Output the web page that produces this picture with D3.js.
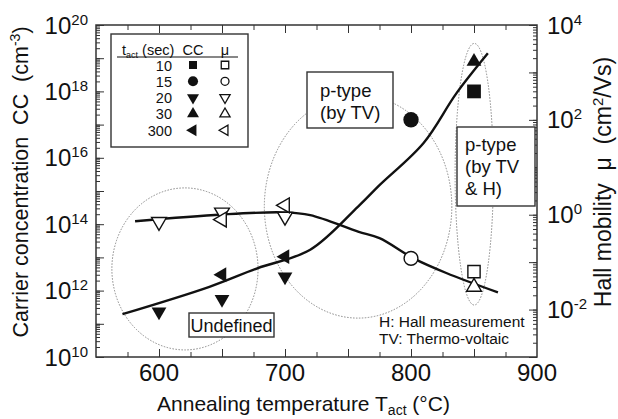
<!DOCTYPE html>
<html>
<head>
<meta charset="utf-8">
<script src="https://cdn.jsdelivr.net/npm/d3@7"></script>
<style>
  body { margin: 0; background: #fff; }
  text { font-family: "Liberation Sans", Arial, sans-serif; fill: #111; white-space: pre; }
</style>
</head>
<body>
<div id="chart"></div>
<script>
/* DATA */
// annealing time series, sec
const series = ["10", "15", "20", "30", "300"];

// temperatures per series (deg C)
const temp10 = [850], temp15 = [800], temp20 = [600, 650, 700], temp30 = [850], temp300 = [650, 700];
// carrier concentration, cm^-3
const cc10 = [1.0e18], cc15 = [1.4e17], cc20 = [2.3e11, 5.5e11, 2.6e12], cc30 = [7.9e18], cc300 = [3.0e12, 1.05e13];
// hall mobility, cm2/Vs
const mu10 = [0.063], mu15 = [0.12], mu20 = [0.71, 1.12, 0.91], mu30 = [0.030], mu300 = [0.79, 1.58];

// guide lines drawn by hand in the figure
const ccFitT = [571, 640, 678, 720, 758, 775, 810, 836, 861];
const ccFitV = [1.95e11, 1.3e12, 4.7e12, 1.7e13, 3.4e14, 1.5e15, 2.8e16, 8.7e17, 1.4e19];
const muFitT = [581, 650, 698, 720, 758, 775, 802, 828, 869];
const muFitV = [0.73, 1.01, 1.12, 0.98, 0.44, 0.32, 0.12, 0.059, 0.023];

// dotted ellipses: centre (T, CC), half width in deg C, half height in decades
const ellT = [620.6, 758, 850.2];
const ellCC = [4.5e12, 3.4e14, 3.2e15];
const ellHalfT = [58, 74.4, 15.2];
const ellHalfDec = [2.44, 3.36, 3.94];

// axis ticks
const xLabels = [600, 700, 800, 900];
const ccExp = [10, 12, 14, 16, 18, 20];
const muExp = [-2, 0, 2, 4];

/* CONSTANTS AND GLOBALS */
var margin = { top: 25, right: 81, bottom: 62, left: 96 },
  width = 618 - margin.left - margin.right,
  height = 419 - margin.top - margin.bottom;

let xScale = d3.scaleLinear().domain([550, 900]).range([0, width]);
let yScale = d3.scaleLog().domain([1e10, 1e20]).range([height, 0]);
let yScale2 = d3.scaleLog().domain([1e-3, 1e4]).range([height, 0]);

const shapeOf = { "10": "square", "15": "circle", "20": "down", "30": "up", "300": "left" };
const rows = [
  [temp10, cc10, mu10], [temp15, cc15, mu15], [temp20, cc20, mu20], [temp30, cc30, mu30], [temp300, cc300, mu300]
];

// symbol areas: [filled, open] for the plot, [filled, open] for the legend
const sizes = {
  square: [190, 150, 64, 56],
  circle: [185, 150, 80, 50],
  tri: [95, 95, 62, 45]
};

function symbolPath(shape, which) {
  if (shape == "square") return d3.symbol(d3.symbolSquare, sizes.square[which])();
  if (shape == "circle") return d3.symbol(d3.symbolCircle, sizes.circle[which])();
  return d3.symbol(d3.symbolTriangle, sizes.tri[which])();
}
function rot(shape) {
  if (shape == "down") return 180;
  if (shape == "left") return -90;
  return 0;
}

function minorTicks(scale) {
  const d = scale.domain();
  const lo = Math.floor(Math.log10(d[0])), hi = Math.ceil(Math.log10(d[1]));
  const out = [];
  for (let e = lo; e < hi; e++) {
    for (let k = 1; k < 10; k++) {
      const v = k * Math.pow(10, e);
      if (v >= d[0] * 0.999 && v <= d[1] * 1.001) out.push(v);
    }
  }
  return out;
}

var svg = d3.select("#chart").append("svg")
  .attr("width", 618)
  .attr("height", 419)
  .append("g")
  .attr("transform", "translate(" + margin.left + "," + margin.top + ")");

// ellipses
svg.selectAll(".ell")
  .data(ellT)
  .enter().append("ellipse")
  .attr("cx", (d, i) => xScale(d))
  .attr("cy", (d, i) => yScale(ellCC[i]))
  .attr("rx", (d, i) => xScale(d + ellHalfT[i]) - xScale(d))
  .attr("ry", (d, i) => yScale(ellCC[i]) - yScale(ellCC[i] * Math.pow(10, ellHalfDec[i])))
  .attr("fill", "none")
  .attr("stroke", "#888")
  .attr("stroke-width", 1)
  .attr("stroke-dasharray", "1.5,1.5");

// guide lines
var line1 = d3.line().curve(d3.curveCatmullRom)
  .x((d, i) => xScale(ccFitT[i])).y(d => yScale(d));
svg.append("path").attr("d", line1(ccFitV))
  .attr("fill", "none").attr("stroke", "#111").attr("stroke-width", 2.4);

var line2 = d3.line().curve(d3.curveCatmullRom)
  .x((d, i) => xScale(muFitT[i])).y(d => yScale2(d));
svg.append("path").attr("d", line2(muFitV))
  .attr("fill", "none").attr("stroke", "#111").attr("stroke-width", 2.4);

// markers
rows.forEach((r, si) => {
  const shape = shapeOf[series[si]];
  r[0].forEach((t, j) => {
    svg.append("path")
      .attr("d", symbolPath(shape, 0))
      .attr("transform", "translate(" + xScale(t) + "," + yScale(r[1][j]) + ") rotate(" + rot(shape) + ")")
      .attr("fill", "#111");
    svg.append("path")
      .attr("d", symbolPath(shape, 1))
      .attr("transform", "translate(" + xScale(t) + "," + yScale2(r[2][j]) + ") rotate(" + rot(shape) + ")")
      .attr("fill", "#fff").attr("stroke", "#111").attr("stroke-width", 1.4);
  });
});

// axes, ticks inward
function cleanAxis(g) { g.select(".domain").remove(); g.selectAll("line").attr("stroke", "#333"); }

svg.append("g").call(d3.axisRight(yScale).tickValues(minorTicks(yScale)).tickSize(4).tickFormat("")).call(cleanAxis);
svg.append("g").call(d3.axisRight(yScale).tickValues(d3.range(10, 21).map(e => Math.pow(10, e))).tickSize(8).tickFormat("")).call(cleanAxis);

svg.append("g").attr("transform", "translate(" + width + ",0)")
  .call(d3.axisLeft(yScale2).tickValues(minorTicks(yScale2)).tickSize(4).tickFormat("")).call(cleanAxis);
svg.append("g").attr("transform", "translate(" + width + ",0)")
  .call(d3.axisLeft(yScale2).tickValues(d3.range(-3, 5).map(e => Math.pow(10, e))).tickSize(8).tickFormat("")).call(cleanAxis);

const x25 = d3.range(575, 900, 50), x50 = d3.range(600, 900, 50);
svg.append("g").attr("transform", "translate(0," + height + ")")
  .call(d3.axisTop(xScale).tickValues(x25).tickSize(5).tickFormat("")).call(cleanAxis);
svg.append("g").attr("transform", "translate(0," + height + ")")
  .call(d3.axisTop(xScale).tickValues(x50).tickSize(8).tickFormat("")).call(cleanAxis);
svg.append("g")
  .call(d3.axisBottom(xScale).tickValues(x25).tickSize(5).tickFormat("")).call(cleanAxis);
svg.append("g")
  .call(d3.axisBottom(xScale).tickValues(x50).tickSize(8).tickFormat("")).call(cleanAxis);

// frame
svg.append("rect").attr("width", width).attr("height", height)
  .attr("fill", "none").attr("stroke", "#333").attr("stroke-width", 1.5);

// tick labels
svg.selectAll(".xl").data(xLabels).enter().append("text")
  .attr("x", d => xScale(d)).attr("y", height + 24)
  .attr("text-anchor", "middle").style("font-size", "24px").text(d => d);

svg.selectAll(".yl").data(ccExp).enter().append("text")
  .attr("x", -8).attr("y", d => yScale(Math.pow(10, d)) + 8.5)
  .attr("text-anchor", "end").style("font-size", "24px")
  .each(function (d) {
    d3.select(this).append("tspan").text("10");
    d3.select(this).append("tspan").attr("dy", -9).style("font-size", "15px").text(d);
  });

svg.selectAll(".yl2").data(muExp).enter().append("text")
  .attr("x", width + 10).attr("y", d => yScale2(Math.pow(10, d)) + 8.5)
  .style("font-size", "24px")
  .each(function (d) {
    d3.select(this).append("tspan").text("10");
    d3.select(this).append("tspan").attr("dy", -9).style("font-size", "15px").text(d);
  });

// axis titles
var xt = svg.append("text").attr("x", width / 2 - 13).attr("y", height + 54)
  .attr("text-anchor", "middle").style("font-size", "21px");
xt.append("tspan").text("Annealing temperature T");
xt.append("tspan").attr("dy", 4).style("font-size", "14px").text("act");
xt.append("tspan").attr("dy", -4).text(" (°C)");

var yt = svg.append("text").attr("transform", "translate(" + (-68.5) + "," + (height / 2 - 9) + ") rotate(-90)")
  .attr("text-anchor", "middle").style("font-size", "21.5px");
yt.append("tspan").text("Carrier concentration  CC  (cm");
yt.append("tspan").attr("dy", -8).style("font-size", "14px").text("-3");
yt.append("tspan").attr("dy", 8).text(")");

var yt2 = svg.append("text").attr("transform", "translate(" + (width + 74) + "," + (height / 2 - 9) + ") rotate(-90)")
  .attr("text-anchor", "middle").style("font-size", "23px");
yt2.append("tspan").text("Hall mobility  μ  (cm");
yt2.append("tspan").attr("dy", -8).style("font-size", "15px").text("2");
yt2.append("tspan").attr("dy", 8).text("/Vs)");

// annotation boxes
function box(x, y, w, h, lines, lh, pad, fs) {
  svg.append("rect").attr("x", x).attr("y", y).attr("width", w).attr("height", h)
    .attr("fill", "#fff").attr("stroke", "#333").attr("stroke-width", 1.4);
  lines.forEach((s, i) => {
    svg.append("text").attr("x", pad == null ? x + w / 2 : x + pad).attr("y", y + lh[0] + i * lh[1])
      .attr("text-anchor", pad == null ? "middle" : "start")
      .style("font-size", fs + "px").text(s);
  });
}
box(211, 47, 86, 56, ["p-type", "(by TV)"], [25, 21.5], 13, 18.5);
box(361, 102, 78, 79, ["p-type", "(by TV", "& H)"], [24, 22], 8, 18.5);
box(93, 288, 85, 24, ["Undefined"], [19, 0], null, 18);

svg.append("text").attr("x", 283).attr("y", 301.5).style("font-size", "15.5px").text("H: Hall measurement");
svg.append("text").attr("x", 283).attr("y", 318.5).style("font-size", "15.5px").text("TV: Thermo-voltaic");

// legend
var lg = svg.append("g").attr("transform", "translate(15,9)");
lg.append("rect").attr("width", 137).attr("height", 113)
  .attr("fill", "#fff").attr("stroke", "#333").attr("stroke-width", 1.4);
var hd = lg.append("text").attr("x", 11).attr("y", 21).style("font-size", "14.5px");
hd.append("tspan").text("t");
hd.append("tspan").attr("dy", 3).style("font-size", "9px").text("act");
hd.append("tspan").attr("dy", -3).text(" (sec)");
lg.append("text").attr("x", 82).attr("y", 21).attr("text-anchor", "middle").style("font-size", "14.5px").text("CC");
lg.append("text").attr("x", 114).attr("y", 21).attr("text-anchor", "middle").style("font-size", "14.5px").text("μ");
lg.append("line").attr("x1", 6).attr("x2", 127).attr("y1", 23).attr("y2", 23).attr("stroke", "#111").attr("stroke-width", 1.2);
series.forEach((s, i) => {
  const yy = 31 + i * 16.3;
  const shape = shapeOf[s];
  lg.append("text").attr("x", 61).attr("y", yy + 5.5).attr("text-anchor", "end").style("font-size", "14.5px").text(s);
  lg.append("path").attr("d", symbolPath(shape, 2))
    .attr("transform", "translate(82," + yy + ") rotate(" + rot(shape) + ")").attr("fill", "#111");
  lg.append("path").attr("d", symbolPath(shape, 3))
    .attr("transform", "translate(114," + yy + ") rotate(" + rot(shape) + ")")
    .attr("fill", "#fff").attr("stroke", "#111").attr("stroke-width", 1.3);
});
</script>
</body>
</html>
